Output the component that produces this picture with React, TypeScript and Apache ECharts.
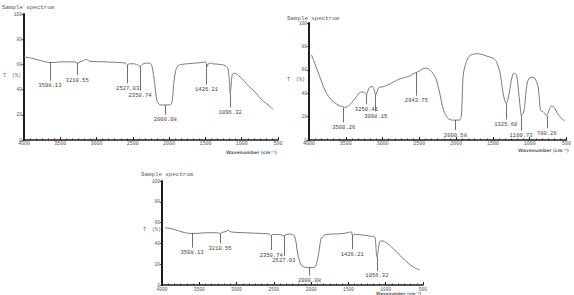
import React, { useEffect, useRef } from "react";
import * as echarts from "echarts";

// ---- Panel 1 (top-left) ----
const p1Wave = [4000, 3900, 3800, 3700, 3643, 3600, 3500, 3400, 3300, 3268, 3230, 3180, 3150, 3120, 3100, 3000, 2900, 2800, 2700, 2600, 2572, 2550, 2500, 2450, 2400, 2370, 2320, 2270, 2238, 2200, 2169, 2130, 2100, 2000, 1970, 1950, 1937, 1910, 1890, 1860, 1821, 1750, 1650, 1550, 1500, 1484, 1473, 1460, 1430, 1400, 1300, 1250, 1210, 1190, 1170, 1159, 1148, 1130, 1103, 1070, 1040, 1000, 940, 900, 850, 801, 750, 700, 662, 620, 569];
const p1Value = [66, 65, 63.5, 62, 61.5, 61.5, 62, 62, 62, 61, 62, 63, 64, 63.5, 62.5, 62.2, 62, 61.8, 61.5, 61, 59.5, 60.5, 60.5, 60, 58.5, 60, 61, 61, 59, 45, 31.5, 28, 27.8, 27.8, 28.5, 35, 45, 55, 58, 59.5, 60, 60.5, 61, 61.5, 62, 60.5, 58.5, 60.5, 61, 60.5, 60, 59.5, 58.5, 57, 47, 37, 42, 52, 53, 52.5, 51, 49, 45, 42.5, 40, 37, 33.5, 30.5, 29, 27, 24.5];
const p1PeakWave = [3643, 3268, 2572, 2400, 2053, 1484, 1159];
const p1PeakTop = [61.5, 61, 59.5, 58.5, 27.8, 60, 37];
const p1PeakEnd = [47, 51.5, 45, 39, 20, 44, 26];
const p1PeakLabel = ["3598.13", "3210.55", "2527.03", "2350.74", "2000.08", "1426.21", "1096.32"];

// ---- Panel 2 (top-right) ----
const p2Wave = [3968, 3923, 3855, 3800, 3764, 3700, 3674, 3583, 3540, 3515, 3480, 3447, 3400, 3356, 3302, 3260, 3243, 3220, 3200, 3175, 3139, 3115, 3093, 3070, 3048, 2990, 2948, 2880, 2812, 2750, 2700, 2640, 2586, 2540, 2500, 2450, 2404, 2370, 2336, 2300, 2268, 2223, 2186, 2160, 2132, 2100, 2064, 2000, 1951, 1935, 1928, 1915, 1906, 1885, 1860, 1830, 1792, 1740, 1679, 1620, 1566, 1498, 1475, 1453, 1430, 1407, 1385, 1362, 1340, 1317, 1295, 1271, 1250, 1226, 1205, 1180, 1160, 1144, 1125, 1112, 1095, 1076, 1055, 1035, 1005, 976, 955, 931, 910, 886, 870, 854, 835, 818, 795, 772, 755, 736, 704, 680, 659, 620, 591, 550, 523];
const p2Value = [72.9, 65.7, 54.3, 45, 40, 34.5, 32.9, 29.1, 28.5, 27.7, 28.5, 30, 33.5, 37, 40.9, 41, 40.6, 38.6, 42, 45, 45.7, 43, 38.6, 42, 45, 45.5, 46.6, 48.5, 50.9, 52.5, 53.4, 54.5, 56.6, 57.7, 59, 60.9, 61.4, 60.5, 58.6, 55.5, 51.4, 40, 28.6, 23.5, 20, 18, 17.1, 17, 17.1, 19, 21.4, 40, 54.3, 62, 67, 71, 72.9, 73.7, 73.5, 72.5, 71.4, 70, 68.5, 67, 63, 58.6, 50, 40, 34, 31.4, 35, 42.9, 51, 56.6, 57, 55.7, 47, 37.1, 25, 20.6, 22, 25.7, 38, 48.6, 53, 53.7, 53.5, 52.9, 50, 45.7, 36, 25.7, 24.5, 24.3, 22.5, 20.6, 22.5, 25.7, 29.1, 28.5, 27, 22.5, 20, 17.5, 16.6];
const p2PeakWave = [3528, 3220, 3093, 2540, 2010, 1325, 1117, 768];
const p2PeakTop = [27.7, 38.6, 38.6, 57.7, 17, 31.4, 20.6, 20.6];
const p2PeakEnd = [15, 30.5, 24.5, 38, 8.5, 17.5, 8, 10];
const p2PeakLabel = ["3500.26", "3250.41", "3098.15", "2943.75", "2000.58", "1325.60", "1100.73", "780.26"];

// ---- Panel 3 (bottom) ----
const p3Wave = [3955, 3879, 3767, 3700, 3611, 3500, 3409, 3300, 3240, 3221, 3200, 3140, 3118, 3100, 3074, 2980, 2872, 2750, 2650, 2560, 2536, 2510, 2420, 2366, 2340, 2290, 2268, 2240, 2223, 2200, 2178, 2150, 2134, 2100, 2067, 2000, 1955, 1930, 1910, 1890, 1865, 1830, 1798, 1700, 1574, 1500, 1462, 1449, 1440, 1425, 1395, 1300, 1216, 1149, 1135, 1118, 1100, 1082, 1060, 1037, 1000, 947, 900, 858, 800, 747, 690, 634, 590, 547];
const p3Value = [55, 54.3, 51.8, 50.5, 49.5, 49.8, 50.2, 50.3, 50, 49.3, 50.5, 51.5, 52.7, 52, 51, 50.5, 50.2, 49.8, 49.5, 49, 47.5, 48.6, 48.5, 47.3, 48.3, 49, 48.9, 48, 47.3, 40, 28.8, 22, 19.2, 17.5, 16.9, 16.9, 16.9, 20, 25.6, 35, 44.7, 47.5, 48.6, 49, 49.5, 50.5, 51.1, 48, 47.5, 48.8, 48.6, 48, 47, 46.3, 40, 27.2, 33, 41.5, 42.5, 42.2, 41, 38.3, 35, 31.9, 28, 24, 20.5, 17.6, 15.8, 14.4];
const p3PeakWave = [3597, 3221, 2536, 2366, 2022, 1449, 1118];
const p3PeakTop = [49.5, 49.3, 47.5, 47.3, 16.9, 48, 27.2];
const p3PeakEnd = [36, 40, 33.5, 28, 9, 34.5, 13.5];
const p3PeakLabel = ["3598.13", "3210.55", "2350.74", "2527.03", "2000.08", "1426.21", "1056.32"];

const xTicks = [4000, 3500, 3000, 2500, 2000, 1500, 1000, 500];
const yTicks = [0, 20, 40, 60, 80, 100];

const MONO = "'Liberation Mono', 'DejaVu Sans Mono', monospace";
const AXIS = "#1e1e1e";
const TXT = "#555";
const CURVE = "#7a7a7a";

type Panel = {
  wave: number[]; value: number[];
  pw: number[]; pt: number[]; pe: number[]; pl: string[];
  grid: { left: number; top: number; width: number; height: number };
  tickSize: number;
};

const panels: Panel[] = [
  { wave: p1Wave, value: p1Value, pw: p1PeakWave, pt: p1PeakTop, pe: p1PeakEnd, pl: p1PeakLabel, grid: { left: 24, top: 14, width: 254, height: 126 }, tickSize: 5 },
  { wave: p2Wave, value: p2Value, pw: p2PeakWave, pt: p2PeakTop, pe: p2PeakEnd, pl: p2PeakLabel, grid: { left: 309, top: 23, width: 258, height: 117 }, tickSize: 5 },
  { wave: p3Wave, value: p3Value, pw: p3PeakWave, pt: p3PeakTop, pe: p3PeakEnd, pl: p3PeakLabel, grid: { left: 162, top: 181, width: 261, height: 104 }, tickSize: 4.6 },
];

export default function App() {
  const ref = useRef<HTMLDivElement>(null);
  useEffect(() => {
    if (!ref.current) return;
    const chart = echarts.init(ref.current, undefined, { renderer: "svg" });
    const grids = panels.map((p) => ({ ...p.grid, containLabel: false }));
    const xAxes = panels.map((p, i) => ({
      type: "value",
      gridIndex: i,
      min: 500,
      max: 4000,
      interval: 500,
      inverse: true,
      axisLine: { show: true, lineStyle: { color: AXIS, width: 1.5 } },
      axisTick: { show: true, inside: true, length: 3, lineStyle: { color: AXIS, width: 1 } },
      minorTick: { show: true, splitNumber: 6, length: 1.5, lineStyle: { color: AXIS, width: 0.8 } },
      splitLine: { show: false },
      axisLabel: {
        show: true, fontSize: p.tickSize, fontFamily: MONO, color: TXT, margin: 1.5,
        formatter: (v: number) => (xTicks.includes(v) ? String(v) : ""),
      },
    }));
    const yAxes = panels.map((p, i) => ({
      type: "value",
      gridIndex: i,
      min: 0,
      max: 100,
      interval: 20,
      axisLine: { show: true, lineStyle: { color: AXIS, width: 2 } },
      axisTick: { show: true, inside: false, length: 2, lineStyle: { color: AXIS, width: 0.8 } },
      minorTick: { show: true, splitNumber: 4, length: 1, lineStyle: { color: AXIS, width: 0.6 } },
      splitLine: { show: false },
      axisLabel: {
        show: true, fontSize: 4.5, fontFamily: MONO, color: TXT, margin: 2,
        formatter: (v: number) => (yTicks.includes(v) ? String(v) : ""),
      },
    }));
    const series = panels.map((p, i) => ({
      type: "line",
      xAxisIndex: i,
      yAxisIndex: i,
      data: p.wave.map((w, k) => [w, p.value[k]]),
      showSymbol: false,
      smooth: 0.3,
      lineStyle: { color: CURVE, width: 1 },
      silent: true,
      markLine: {
        silent: true,
        animation: false,
        symbol: ["none", "arrow"],
        symbolSize: [0, 3.5],
        lineStyle: { color: "#333", width: 0.7, type: "solid" },
        label: {
          show: true, position: "end", distance: 2,
          fontSize: 5.5, fontFamily: MONO, color: "#444",
          formatter: (q: any) => q.name,
        },
        data: p.pw.map((w, k) => [
          { coord: [w, p.pt[k]], name: p.pl[k] },
          { coord: [w, p.pe[k]], name: p.pl[k] },
        ]),
      },
    }));
    const txt = (x: number, y: number, text: string, size: number, extra: any = {}) => ({
      type: "text", left: x, top: y,
      style: { text, fontSize: size, fontFamily: MONO, fill: TXT, ...extra },
    });
    const wn = (x: number, y: number, size: number) => ({
      type: "text", left: x, top: y,
      style: { text: "Wavenumber (cm⁻¹)", fontSize: size, fontFamily: "'DejaVu Sans', sans-serif", fontWeight: "bold", fill: "#666" },
    });
    const graphic = [
      txt(2, 4, "Sample spectrum", 5.8),
      txt(287, 15, "Sample spectrum", 5.8),
      txt(141, 171.5, "Sample spectrum", 5.8),
      txt(3, 73, "T  (%)", 5),
      txt(287, 77, "T  (%)", 5),
      txt(143, 227, "T  (%)", 5),
      wn(226, 150, 4.5),
      wn(518, 147.5, 4.5),
      wn(376, 291.2, 4),
    ];
    chart.setOption({
      animation: false,
      backgroundColor: "#ffffff",
      grid: grids,
      xAxis: xAxes,
      yAxis: yAxes,
      series,
      graphic,
    } as any);
    return () => chart.dispose();
  }, []);
  return (
    <div
      ref={ref}
      style={{ position: "fixed", left: 0, top: 0, width: 574, height: 295, background: "#fff" }}
    />
  );
}
